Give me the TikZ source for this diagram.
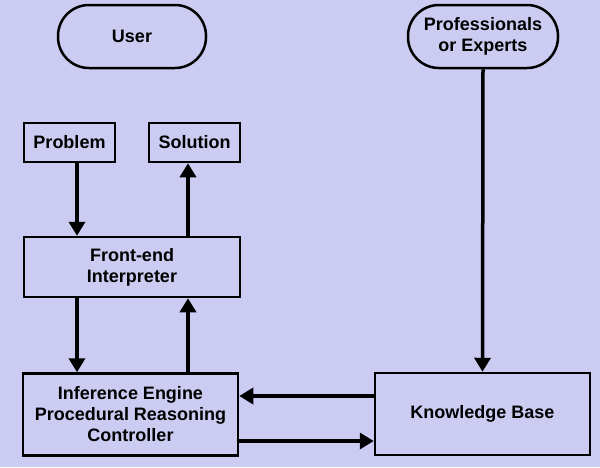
\documentclass[tikz,border=0pt]{standalone}
\usepackage{fontspec}
\setmainfont{Liberation Sans}
\usetikzlibrary{arrows.meta}
\definecolor{bg}{RGB}{204,204,242}
\begin{document}
\begin{tikzpicture}[x=1pt,y=-1pt,
  box/.style={draw,line width=2.5pt,fill=bg,inner sep=0pt,align=center,font=\bfseries\fontsize{18}{21}\selectfont},
  stadium/.style={box,rounded corners=31pt},
  arr/.style={line width=3.5pt,-{Triangle[length=14pt,width=16pt]}}]
\fill[bg] (0,0) rectangle (600,467);
\useasboundingbox (0,0) rectangle (600,467);
\node[stadium,minimum width=148pt,minimum height=63pt] (user) at (132,36.5) {User};
\node[stadium,minimum width=150pt,minimum height=63pt] (prof) at (483,36.5) {Professionals\\or Experts};
\node[box,minimum width=91pt,minimum height=39pt] (prob) at (69.5,142.5) {Problem};
\node[box,minimum width=91pt,minimum height=39pt] (sol) at (194.5,142.5) {Solution};
\node[box,minimum width=216pt,minimum height=60pt] (front) at (132,267) {Front-end\\Interpreter};
\node[box,minimum width=215pt,minimum height=82pt] (inf) at (130.5,414.5) {Inference Engine\\Procedural Reasoning\\Controller};
\node[box,minimum width=215pt,minimum height=82pt] (kb) at (482.5,414) {Knowledge Base};
\draw[arr] (prob.south -| 77,0) -- (front.north -| 77,0);
\draw[arr] (front.north -| 188,0) -- (sol.south -| 188,0);
\draw[arr] (front.south -| 77,0) -- (inf.north -| 77,0);
\draw[arr] (inf.north -| 188,0) -- (front.south -| 188,0);
\draw[arr] (prof.south) -- (kb.north);
\draw[arr] (kb.west |- 0,396) -- (inf.east |- 0,396);
\draw[arr] (inf.east |- 0,441) -- (kb.west |- 0,441);
\end{tikzpicture}
\end{document}
